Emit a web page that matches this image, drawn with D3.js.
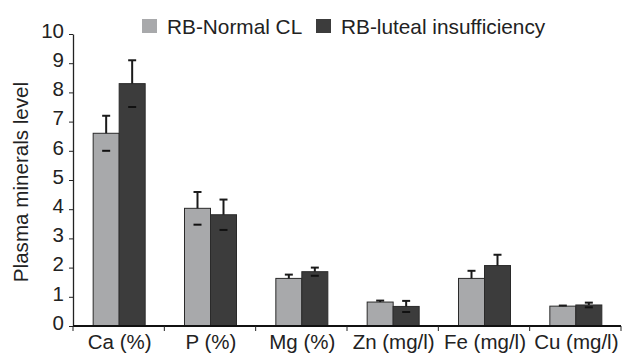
<!DOCTYPE html>
<html>
<head>
<meta charset="utf-8">
<script src="https://cdn.jsdelivr.net/npm/d3@7"></script>
<style>
  html, body { margin: 0; padding: 0; background: #fff; }
  svg { display: block; font-family: "Liberation Sans", Arial, sans-serif; }
</style>
</head>
<body>
<div id="chart"></div>
<script>
// --- data ---
const categories = ["Ca (%)", "P (%)", "Mg (%)", "Zn (mg/l)", "Fe (mg/l)", "Cu (mg/l)"];
const seriesNames = ["RB-Normal CL", "RB-luteal insufficiency"];
const normalMean = [6.6, 4.03, 1.63, 0.82, 1.63, 0.68];
const normalSD   = [0.6, 0.56, 0.13, 0.05, 0.26, 0.02];
const lutealMean = [8.3, 3.81, 1.86, 0.67, 2.07, 0.72];
const lutealSD   = [0.8, 0.52, 0.14, 0.19, 0.37, 0.08];
// the lower half of the error bar only shows as a short dash on some bars
const normalLowerShown = [true, true, false, false, false, false];
const lutealLowerShown = [true, true, true, true, false, true];
const yTicks = [0, 1, 2, 3, 4, 5, 6, 7, 8, 9, 10];

const W = 633, H = 353;
const margin = { top: 34, right: 12, bottom: 27, left: 73 };
const FONT = 20.5;
const colors = ["#a8a9ab", "#3c3c3c"];
const textColor = "#222";

const svg = d3.select("#chart").append("svg")
  .attr("width", W).attr("height", H);

const x0 = d3.scaleBand().domain(categories)
  .range([margin.left, W - margin.right]);
const x1 = d3.scaleBand().domain(seriesNames).range([0, 52]);
const groupOffset = (x0.bandwidth() - 52) / 2 + 0.5;

const y = d3.scaleLinear().domain([0, 10])
  .range([H - margin.bottom, margin.top]);

const rows = categories.map((c, i) => ({
  cat: c,
  vals: [
    { s: seriesNames[0], v: normalMean[i], sd: normalSD[i], low: normalLowerShown[i] },
    { s: seriesNames[1], v: lutealMean[i], sd: lutealSD[i], low: lutealLowerShown[i] }
  ]
}));

// bars
const groups = svg.append("g").selectAll("g")
  .data(rows)
  .join("g")
  .attr("transform", d => `translate(${x0(d.cat) + groupOffset},0)`);

groups.selectAll("rect")
  .data(d => d.vals)
  .join("rect")
  .attr("x", d => x1(d.s))
  .attr("y", d => y(d.v))
  .attr("width", x1.bandwidth())
  .attr("height", d => y(0) - y(d.v))
  .attr("fill", (d, i) => colors[i])
  .attr("stroke", "#2a2a2a")
  .attr("stroke-width", 1);

// error bars (upper whisker with cap)
const err = groups.selectAll("g.err")
  .data(d => d.vals)
  .join("g")
  .attr("class", "err")
  .attr("transform", d => `translate(${x1(d.s) + x1.bandwidth() / 2},0)`);

err.append("line")
  .attr("y1", d => y(d.v))
  .attr("y2", d => y(d.v + d.sd))
  .attr("stroke", "#1a1a1a")
  .attr("stroke-width", 2);

err.append("line")
  .attr("x1", -4).attr("x2", 4)
  .attr("y1", d => y(d.v + d.sd))
  .attr("y2", d => y(d.v + d.sd))
  .attr("stroke", "#1a1a1a")
  .attr("stroke-width", 2);

err.filter(d => d.low).append("line")
  .attr("x1", -4).attr("x2", 4)
  .attr("y1", d => y(d.v - d.sd))
  .attr("y2", d => y(d.v - d.sd))
  .attr("stroke", "#111")
  .attr("stroke-width", 2);

// y axis
const yAxis = svg.append("g")
  .attr("transform", `translate(${margin.left},0)`)
  .call(d3.axisLeft(y).tickValues(yTicks).tickSize(4).tickPadding(5).tickSizeOuter(0));
yAxis.select(".domain").attr("stroke", "#222").attr("stroke-width", 1.3);
yAxis.selectAll(".tick line").attr("stroke", "#222");
yAxis.selectAll(".tick text")
  .attr("font-size", FONT)
  .attr("fill", textColor)
  .attr("font-family", "Liberation Sans, Arial, sans-serif")
  .attr("dy", "0.16em");

// x axis: baseline, boundary ticks, centred labels
const xBase = y(0);
svg.append("line")
  .attr("x1", margin.left).attr("x2", W - margin.right)
  .attr("y1", xBase).attr("y2", xBase)
  .attr("stroke", "#111").attr("stroke-width", 2);

const bounds = categories.map(c => x0(c)).concat([x0.range()[1]]);
svg.append("g").selectAll("line")
  .data(bounds)
  .join("line")
  .attr("x1", d => d).attr("x2", d => d)
  .attr("y1", xBase).attr("y2", xBase + 5)
  .attr("stroke", "#222").attr("stroke-width", 1);

svg.append("g").selectAll("text")
  .data(categories)
  .join("text")
  .attr("x", d => x0(d) + x0.bandwidth() / 2 + 1)
  .attr("y", H - 4)
  .attr("text-anchor", "middle")
  .attr("font-size", FONT)
  .attr("fill", textColor)
  .text(d => d);

// y title
svg.append("text")
  .attr("transform", `translate(28,${(y(0) + y(10)) / 2 + 2}) rotate(-90)`)
  .attr("text-anchor", "middle")
  .attr("font-size", 20.6)
  .attr("fill", textColor)
  .text("Plasma minerals level");

// legend
const legendX = [142, 316];
const legend = svg.append("g").selectAll("g")
  .data(seriesNames)
  .join("g")
  .attr("transform", (d, i) => `translate(${legendX[i]},19)`);

legend.append("rect")
  .attr("width", 15).attr("height", 14)
  .attr("fill", (d, i) => colors[i]);

legend.append("text")
  .attr("x", 25).attr("y", 15)
  .attr("font-size", 20.8)
  .attr("fill", textColor)
  .text(d => d);
</script>
</body>
</html>
